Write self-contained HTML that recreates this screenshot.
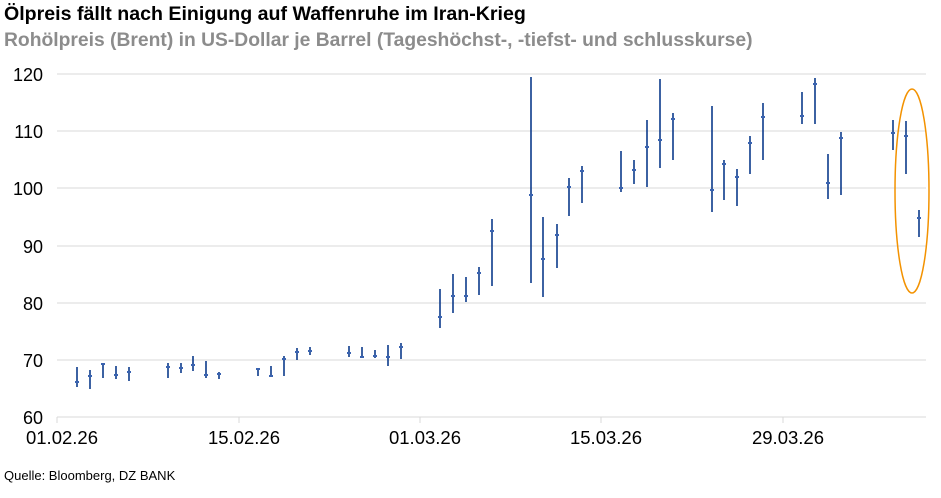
<!DOCTYPE html>
<html><head><meta charset="utf-8"><style>body{margin:0;background:#fff}</style></head><body>
<svg width="941" height="493" xmlns="http://www.w3.org/2000/svg" font-family="Liberation Sans, Arial, sans-serif">
<text x="4" y="20" font-size="19.6" font-weight="bold" fill="#000">Ölpreis fällt nach Einigung auf Waffenruhe im Iran-Krieg</text>
<text x="4" y="46" font-size="19.3" font-weight="bold" fill="#8c8c8c">Rohölpreis (Brent) in US-Dollar je Barrel (Tageshöchst-, -tiefst- und schlusskurse)</text>
<g stroke="#d9d9d9" stroke-width="1">
<line x1="57" x2="926" y1="74" y2="74"/><line x1="57" x2="926" y1="131" y2="131"/><line x1="57" x2="926" y1="188" y2="188"/><line x1="57" x2="926" y1="246" y2="246"/><line x1="57" x2="926" y1="303" y2="303"/><line x1="57" x2="926" y1="360" y2="360"/><line x1="57" x2="926" y1="417" y2="417"/>
<line x1="57" x2="57" y1="417" y2="423"/><line x1="239" x2="239" y1="417" y2="423"/><line x1="420" x2="420" y1="417" y2="423"/><line x1="601" x2="601" y1="417" y2="423"/><line x1="783" x2="783" y1="417" y2="423"/>
</g>
<g font-size="18" fill="#000" text-anchor="end">
<text x="43" y="81">120</text><text x="43" y="138">110</text><text x="43" y="195">100</text><text x="43" y="253">90</text><text x="43" y="310">80</text><text x="43" y="367">70</text><text x="43" y="424">60</text>
</g>
<g font-size="18.5" fill="#000" text-anchor="middle">
<text x="62" y="444">01.02.26</text><text x="244" y="444">15.02.26</text><text x="425" y="444">01.03.26</text><text x="606" y="444">15.03.26</text><text x="788" y="444">29.03.26</text>
</g>
<g stroke="#0d3b8c" stroke-width="1.6" fill="none">
<path d="M77 367V387M90 370V389M103 363V378M116 366V379M129 367V381M168 363V378M181 363V373M193 356V371M206 361V378M219 372V379M258 368V376M271 366V377M284 356V376M297 348V360M310 347V355M349 346V357M362 347V357M375 350V358M388 345V366M401 343V359M440 289V328M453 274V313M466 277V302M479 267V295M492 219V286M531 77V283M543 217V297M557 224V268M569 178V216M582 166V203M621 151V192M634 160V184M647 120V187M660 79V168M673 113V160M712 106V212M724 160V200M737 169V206M750 136V174M763 103V160M802 92V124M815 78V124M828 154V199M841 132V195M893 120V150M906 121V174M919 210V237"/>
</g>
<g stroke="#3a63b0" stroke-width="2">
<path d="M75 382h4M88 376h4M101 364h4M114 375h4M127 372h4M166 367h4M179 368h4M191 365h4M204 375h4M217 374h4M256 369h4M269 376h4M282 359h4M295 352h4M308 351h4M347 353h4M360 357h4M373 356h4M386 357h4M399 347h4M438 317h4M451 296h4M464 296h4M477 273h4M490 231h4M529 195h4M541 259h4M555 235h4M567 187h4M580 171h4M619 188h4M632 170h4M645 147h4M658 140h4M671 119h4M710 190h4M722 164h4M735 177h4M748 143h4M761 117h4M800 116h4M813 84h4M826 183h4M839 138h4M891 133h4M904 136h4M917 218h4"/>
</g>
<ellipse cx="912" cy="191" rx="17" ry="102" fill="none" stroke="#f39200" stroke-width="1.5"/>
<text x="4" y="480" font-size="13" fill="#000">Quelle: Bloomberg, DZ BANK</text>
</svg>
</body></html>
